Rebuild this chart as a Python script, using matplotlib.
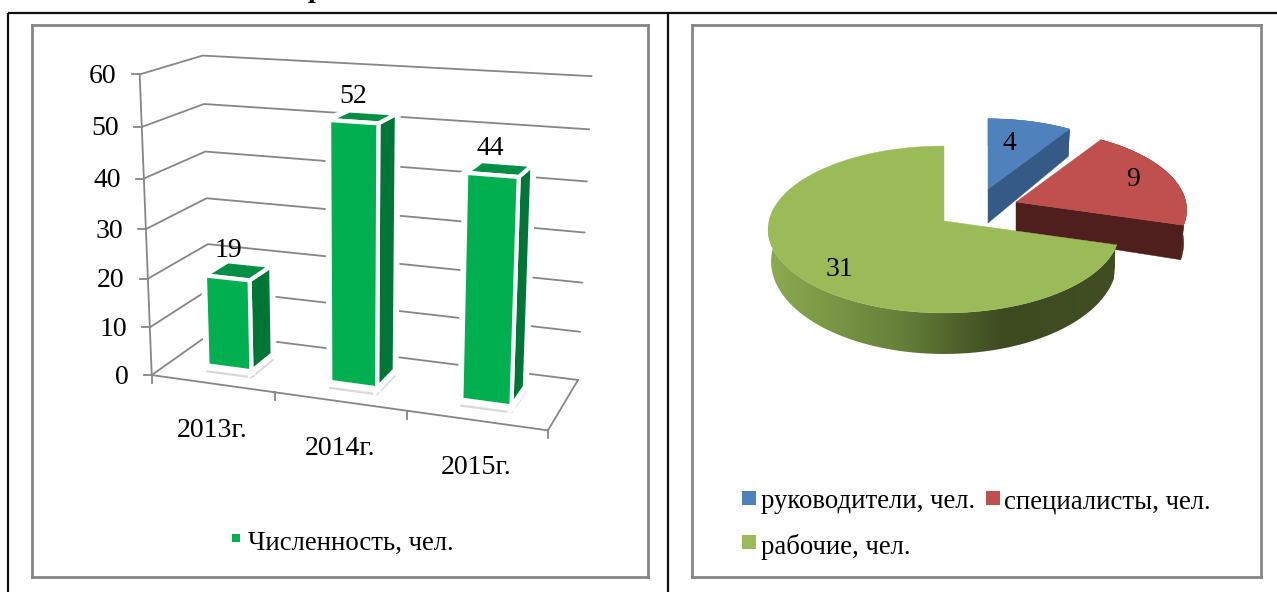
import numpy as np
import matplotlib
matplotlib.use("Agg")
import matplotlib.pyplot as plt
from matplotlib.patches import Polygon, Rectangle
from matplotlib.colors import LinearSegmentedColormap

# ---------- data ----------
years = ["2013г.", "2014г.", "2015г."]
headcount = [19, 52, 44]
y_ticks = [0, 10, 20, 30, 40, 50, 60]
bar_series = "Численность, чел."

pie_labels = ["руководители, чел.", "специалисты, чел.", "рабочие, чел."]
pie_values = [4, 9, 31]

# ---------- style ----------
plt.rcParams["font.family"] = ["Liberation Serif", "DejaVu Serif"]
FS = 19.3
FS_NUM = 20
W, H = 1277, 592
GREY = "#868686"
fig = plt.figure(figsize=(W / 100, H / 100), dpi=100, facecolor="white")


def panel(x0, y0, x1, y1):
    ax = fig.add_axes([x0 / W, 1 - y1 / H, (x1 - x0) / W, (y1 - y0) / H])
    ax.set_xlim(x0, x1)
    ax.set_ylim(y1, y0)
    ax.set_xticks([])
    ax.set_yticks([])
    for s in ax.spines.values():
        s.set_color(GREY)
        s.set_linewidth(2.0)
    return ax


# page (table) rules and the cropped heading letter above them
bg = fig.add_axes([0, 0, 1, 1], zorder=-1)
bg.set_xlim(0, W)
bg.set_ylim(H, 0)
bg.axis("off")
for xs, ys in [((8, W), (13, 13)), ((8, 8), (13, H)), ((668, 668), (13, H))]:
    bg.plot(xs, ys, color="#111111", lw=1.6, solid_capstyle="butt")
bg.text(315, -3, "р", ha="center", va="baseline", fontsize=FS_NUM, fontweight="bold")

# ---------- left chart: 3-D columns ----------
axL = panel(32, 25, 648, 577)
calib_w = np.array([
    (0, 0, 0), (3, 0, 0), (3, 1, 0), (0, 1, 0), (0, 0, 60), (0, 1, 60), (3, 1, 60),
    (0, 0, 30), (3, 1, 30), (0, 1, 30), (1, 0, 0), (2, 0, 0)], float)
calib_p = np.array([
    (152, 375), (547, 430), (578, 379), (210, 333), (140, 74), (202, 56), (591, 76),
    (146, 228), (586, 233), (207, 199), (275, 393), (407, 412)], float)
A, b_ = [], []
for (u, d, v), (px, py) in zip(calib_w, calib_p):
    A.append([u, d, v, 1, 0, 0, 0, 0, -px * u, -px * d, -px * v])
    b_.append(px)
    A.append([0, 0, 0, 0, u, d, v, 1, -py * u, -py * d, -py * v])
    b_.append(py)
P = np.append(np.linalg.lstsq(np.array(A), np.array(b_), rcond=None)[0], 1).reshape(3, 4)


def proj(u, d, v):
    q = P @ np.array([u, d, v, 1.0])
    return q[0] / q[2], q[1] / q[2]


def line3(pts, **kw):
    p = np.array([proj(*q) for q in pts])
    axL.plot(p[:, 0], p[:, 1], color=GREY, solid_capstyle="round", **kw)


for v in y_ticks:
    if v == 0:
        line3([(0, 1, 0), (3, 1, 0)], lw=1.3, zorder=1)
        line3([(0, 0, 0), (0, 1, 0)], lw=1.3, zorder=1)
    else:
        line3([(0, 0, v), (0, 1, v), (3, 1, v)], lw=1.3, zorder=1)
    x, y = proj(0, 0, v)
    axL.plot([x - 8, x], [y, y], color=GREY, lw=1.3, zorder=1)
    axL.text(x - 23, y + 2, str(v), ha="right", va="center", fontsize=FS_NUM, color="black")
line3([(0, 0, 0), (0, 0, 60)], lw=1.3, zorder=1)
line3([(0, 0, 0), (3, 0, 0), (3, 1, 0)], lw=1.3, zorder=1)
for u in range(4):
    x, y = proj(u, 0, 0)
    axL.plot([x, x], [y, y + 8], color=GREY, lw=1.3, zorder=1)

U0, U1, D0, D1 = 0.30, 0.665, 0.33, 0.73
for i, (val, lab) in enumerate(zip(headcount, years)):
    u0, u1 = i + U0, i + U1
    front = [proj(u0, D0, 0), proj(u1, D0, 0), proj(u1, D0, val), proj(u0, D0, val)]
    side = [proj(u1, D0, 0), proj(u1, D1, 0), proj(u1, D1, val), proj(u1, D0, val)]
    top = [proj(u0, D0, val), proj(u1, D0, val), proj(u1, D1, val), proj(u0, D1, val)]
    # soft reflection around the foot of the column
    fx = np.array([front[0], front[1], side[1]])
    axL.plot(fx[:, 0], fx[:, 1] + 6, color="#d9d9d9", lw=1.6, zorder=2, solid_joinstyle="round")
    for f in (side, top, front):
        axL.add_patch(Polygon(f, closed=True, fc="white", ec="white", lw=5.5, zorder=3))
    for f, c in zip((side, top, front), ("#007538", "#008f45", "#00b050")):
        axL.add_patch(Polygon(f, closed=True, fc=c, ec="white", lw=3, zorder=4,
                              joinstyle="round"))
    x, y = proj(i + (U0 + U1) / 2, (D0 + D1) / 2, val)
    axL.text(x - 10, y - 20, str(val), ha="center", va="center", fontsize=FS_NUM, zorder=5)
    x, y = proj(i + 0.5, 0, 0)
    axL.text(x, y + 47, lab, ha="center", va="center", fontsize=FS_NUM)

axL.add_patch(Rectangle((232, 534), 8, 8, fc="#00b050", ec="none"))
axL.text(248, 543, bar_series, ha="left", va="center", fontsize=FS)

# ---------- right chart: exploded 3-D pie ----------
axR = panel(692, 25, 1261, 577)
CX, AP_Y, A_T, B_T, K = 944, 221, 175, 82.6, 0.1017
BOT_Y, A_B, B_B = 252, 172, 91.6


def rim(theta, off=(0, 0), r=1.0, bottom=False):
    th = np.radians(theta)
    X, Yd = r * np.sin(th), -r * np.cos(th)
    w = 1 - K * Yd
    a, y0, b = (A_B, BOT_Y, B_B) if bottom else (A_T, AP_Y, B_T)
    return np.column_stack([CX + off[0] + a * X / w, y0 + off[1] + b * Yd / w])


bounds = np.concatenate([[0], np.cumsum(pie_values)]) / sum(pie_values) * 360
offsets = [(44, -32), (72, -19), (0, 0)]
radii = [0.93, 0.97, 1.0]
extra_depth = [3, 1, 0]
tops = ["#4f81bd", "#c0504d", "#9bbb59"]
sides = ["#355a85", "#4f1f1e", "#3f4b22"]
wall_cmap = LinearSegmentedColormap.from_list(
    "wall", [(0.0, "#8cab50"), (0.38, "#66803a"), (0.68, "#3e4a20"), (1.0, "#414d23")])
for i in range(3):
    t0, t1 = bounds[i], bounds[i + 1]
    th = np.linspace(t0, t1, 120)
    off, r = offsets[i], radii[i]
    off_b = (off[0], off[1] + extra_depth[i])
    apex_t = rim(0, off, 0)
    apex_b = rim(0, off_b, 0, True)
    outer_t, outer_b = rim(th, off, r), rim(th, off_b, r, True)
    if i < 2:  # cut face and rim side
        cut = np.vstack([apex_t, outer_t[-1], outer_b[-1], apex_b])
        axR.add_patch(Polygon(cut, closed=True, fc=sides[i], ec=sides[i], lw=0.3, zorder=2 + i))
        ring = np.vstack([outer_t, outer_b[::-1]])
        axR.add_patch(Polygon(ring, closed=True, fc=sides[i], ec=sides[i], lw=0.3, zorder=2 + i))
    else:  # gradient on the curved wall, clipped to the wall outline
        th2 = np.linspace(t0, 272, 200)
        ring = np.vstack([rim(th2, off, r), rim(th2, off, r, True)[::-1]])
        clip = Polygon(ring, closed=True, transform=axR.transData)
        im = axR.imshow(np.linspace(0, 1, 256)[None, :], cmap=wall_cmap, vmin=0, vmax=1,
                        extent=(768, 1115, 360, 225), aspect="auto", zorder=4,
                        interpolation="bilinear")
        im.set_clip_path(clip)
        axR.set_xlim(692, 1261)
        axR.set_ylim(577, 25)
    axR.add_patch(Polygon(np.vstack([apex_t, outer_t]), closed=True, fc=tops[i], ec=tops[i],
                          lw=0.3, zorder=3 + i * 2))

for txt, (x, y) in zip(pie_values, [(1009, 142), (1133, 178), (839, 268)]):
    axR.text(x, y + 2, str(txt), ha="center", va="center", fontsize=FS_NUM, zorder=10)

leg_pos = [(742, 491, 761, 502), (986, 491, 1004, 502), (742, 535, 761, 547)]
for (sx, sy, tx, ty), c, lab in zip(leg_pos, tops, pie_labels):
    axR.add_patch(Rectangle((sx, sy), 14, 14, fc=c, ec="none"))
    axR.text(tx, ty, lab, ha="left", va="center", fontsize=FS)

fig.savefig("out.png", dpi=100)
